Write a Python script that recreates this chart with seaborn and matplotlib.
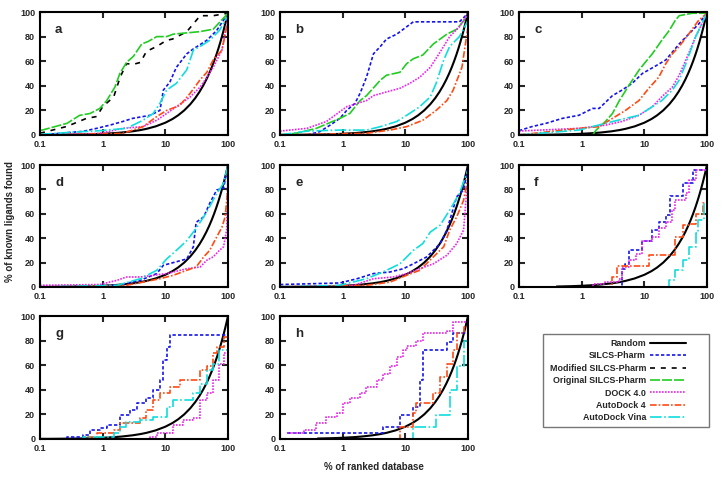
import numpy as np
import pandas as pd
import seaborn as sns
import matplotlib.pyplot as plt
from matplotlib.patches import Rectangle

# Enrichment curves: (% of ranked database, % of known ligands found)
A_SILCS = [(0.1, 0), (0.49, 3), (0.8, 5.4), (1.3, 8), (2.1, 11), (3, 13.5), (5.7, 16), (8.2, 20), (9.3, 36.5),
           (11.8, 43), (15, 55), (22, 66), (28, 70), (46, 77), (66, 85), (100, 99)]
A_MOD = [(0.1, 1.4), (0.27, 7), (0.55, 13.5), (0.8, 15), (1.0, 23), (1.5, 31), (1.9, 47), (2.4, 58), (3.1, 57.5),
         (4, 59), (5, 68), (7.3, 72), (10.5, 77), (13, 78), (22, 84), (36, 97), (58, 97), (100, 99)]
A_ORIG = [(0.1, 3.5), (0.27, 9.5), (0.43, 16), (0.63, 17.5), (0.9, 21.6), (1.16, 28), (1.57, 39), (1.88, 50),
          (2.4, 59), (3.1, 64), (4.2, 74), (5.3, 76), (7.3, 80), (10.5, 80), (13.4, 82), (35, 84), (58, 86), (100, 99)]
A_DOCK = [(0.1, 0), (0.9, 1.3), (2.1, 5.4), (4.4, 6.8), (7.3, 12), (10.5, 17.5), (15, 23), (25, 31), (36, 39),
          (46, 47), (58, 55), (80, 69), (100, 96)]
A_AD4 = [(0.1, 0), (2.1, 1.3), (4.4, 6.8), (7.3, 15), (10.5, 20), (17, 24), (25, 34), (36, 45), (46, 51),
         (58, 61), (80, 69), (100, 93)]
A_VINA = [(0.1, 0.5), (0.27, 2), (0.9, 3.5), (2.4, 5.4), (4.4, 12), (6.4, 17.5), (8.2, 25.7), (10.5, 36.5),
          (15, 42), (22, 53), (28, 69), (36, 72), (51, 77), (73, 85), (100, 97)]

B_SILCS = [(0.1, 0), (0.27, 0), (0.43, 2.7), (0.63, 8), (0.9, 13.5), (1.16, 20), (1.57, 25.7), (1.9, 34),
           (2.4, 47), (3.1, 66), (4, 72), (5, 78), (7.3, 82), (10.5, 88), (13.4, 92), (73, 92), (100, 99)]
B_ORIG = [(0.1, 0), (0.18, 1.4), (0.38, 5.4), (0.9, 13.5), (1.3, 17.5), (1.9, 28), (2.4, 32), (4, 44.6),
          (5, 48.6), (8.2, 51), (10.5, 58), (13.4, 62), (19, 65), (28, 74), (46, 82), (66, 86), (100, 97)]
B_DOCK = [(0.1, 3.2), (0.27, 5.4), (0.55, 11), (1.16, 23), (1.7, 25.7), (2.4, 28), (3.1, 32), (5, 35),
          (8.2, 38), (11.8, 42), (17, 47), (25, 55), (36, 67.5), (51, 80), (73, 88), (100, 99)]
B_AD4 = [(0.1, 0), (2.4, 1.4), (5.7, 4), (10.5, 6.8), (19, 12), (31, 20), (46, 28), (58, 36.5), (80, 55),
         (100, 88)]
B_VINA = [(0.1, 0), (0.27, 3.2), (0.9, 4), (2.4, 4), (4, 6.8), (7.3, 11), (10.5, 16), (17, 23), (25, 31),
          (31, 42), (41, 61), (51, 72), (73, 80), (100, 93)]

C_SILCS = [(0.1, 3.5), (0.16, 6.8), (0.27, 9.5), (0.49, 13.5), (0.9, 16), (1.5, 21.6), (1.9, 21.6), (3.1, 32),
           (4.4, 36.5), (6.4, 42), (9.3, 50), (15, 56), (22, 61), (36, 74), (51, 82), (73, 90), (100, 99)]
C_ORIG = [(1.5, 0), (1.7, 4), (2.4, 11), (3.1, 17.5), (4, 28), (5.7, 40.5), (8.2, 52.7), (10.5, 59.5),
          (13.4, 66), (19, 77), (25, 85), (31, 93), (36, 97), (58, 99), (100, 99)]
C_DOCK = [(0.1, 3.2), (0.9, 5.4), (2.4, 8), (4.4, 11), (8.2, 16), (13.4, 23), (19, 31), (28, 39), (36, 48.6),
          (46, 61), (66, 80), (100, 99)]
C_AD4 = [(0.1, 0), (0.9, 5.4), (1.9, 6.8), (3.1, 13.5), (5, 20), (8.2, 28), (11.8, 38), (17, 47), (22, 58),
         (28, 66), (36, 72), (51, 82), (73, 93), (100, 99)]
C_VINA = [(0.1, 0), (0.9, 4), (2.4, 9.5), (5, 13.5), (8.2, 16), (13.4, 23), (19, 28), (28, 36.5), (36, 44.6),
          (46, 58), (66, 80), (100, 99)]

D_SILCS = [(0.1, 0), (1.7, 1.4), (4, 5.5), (7.3, 11), (9.3, 17.8), (22, 23), (28, 33), (31, 53), (41, 57.5),
           (51, 68.5), (66, 79.5), (85, 81), (100, 100)]
D_DOCK = [(0.1, 1.4), (0.9, 2), (1.7, 5.5), (2.4, 8.2), (4, 8.2), (6.4, 9.6), (10.5, 11), (22, 15), (36, 16.4),
          (46, 22), (58, 24.7), (73, 30), (85, 33), (95, 46.6), (100, 98)]
D_AD4 = [(0.1, 0), (2.4, 1.4), (4.4, 4), (8.2, 6.8), (13.4, 9.6), (22, 13.7), (31, 16.4), (41, 24.7),
         (51, 30), (66, 41), (80, 49), (90, 57.5), (100, 82)]
D_VINA = [(0.1, 0), (1.7, 1.4), (4, 6.8), (7.3, 13.7), (10.5, 23), (15, 30), (22, 38), (31, 48), (46, 61.6),
          (66, 76.7), (85, 85), (100, 100)]

E_SILCS = [(0.1, 2), (0.9, 3.3), (1.7, 6.8), (3.1, 11), (5.7, 12.3), (9.3, 15), (13.4, 19), (22, 24.7),
           (36, 35.6), (46, 46.6), (66, 74), (85, 79.5), (100, 98.6)]
E_DOCK = [(0.1, 0), (1.5, 1.4), (3.1, 6.8), (6.4, 8.2), (10.5, 11), (17, 15), (28, 19), (46, 26), (66, 35.6),
          (85, 46.6), (100, 93)]
E_AD4 = [(0.1, 0), (2.4, 1.4), (5.7, 4), (10.5, 9.6), (17, 13.7), (28, 24.7), (41, 33), (51, 46.6), (66, 57.5),
         (85, 71), (100, 90)]
E_VINA = [(0.1, 0), (0.9, 1.4), (2.4, 6.8), (4.4, 12.3), (8.2, 19), (13.4, 30), (19, 35.6), (25, 45),
          (36, 50.7), (51, 63), (73, 76.7), (100, 96)]

F_SILCS = [(0.1, 0), (4, 0), (4.4, 15), (5, 19), (5.7, 30), (9.3, 38), (13.4, 46.6), (17, 53.4), (22, 59),
           (26, 75), (36, 75), (41, 85), (60, 96), (100, 100)]
F_DOCK = [(0.1, 0), (1.5, 2.7), (2.4, 4), (4, 6.8), (4.4, 16.4), (5.7, 22), (7.3, 27), (9.3, 38), (13.4, 41),
          (17, 48), (22, 53.4), (28, 63), (31, 71), (46, 77), (51, 88), (66, 96), (100, 100)]
F_AD4 = [(0.1, 0), (2.4, 0), (3.1, 8.2), (3.6, 17.5), (10.5, 17.5), (11.8, 26), (25, 26), (31, 41), (41, 50.7),
         (51, 52), (66, 60), (85, 68.5), (100, 88)]
F_VINA = [(22, 0), (25, 5.5), (31, 13.7), (41, 22), (51, 33), (66, 44), (73, 55), (90, 68.5), (100, 93)]

G_SILCS = [(0.1, 0), (0.27, 2), (0.49, 3.5), (0.63, 7.5), (0.9, 9), (1.16, 11.6), (1.5, 11.6), (1.9, 19.7),
           (2.7, 23.7), (3.5, 29), (5, 33), (6.4, 40), (8.2, 48), (9.3, 64), (10.5, 75), (11.8, 84.4),
           (99, 84.4), (100, 95)]
G_DOCK = [(0.1, 0), (5.7, 2), (7.3, 5), (13.4, 11.6), (19, 15.6), (28, 17), (36, 32), (46, 37), (58, 48),
          (73, 61), (85, 70), (100, 94)]
G_AD4 = [(0.1, 0), (0.49, 2), (0.8, 5), (1.16, 5), (1.5, 7.5), (1.9, 13), (4, 17), (5, 23.7), (6.4, 32),
         (8.2, 37), (11.8, 42.6), (17, 48), (28, 48), (36, 56), (46, 59), (58, 70), (66, 75), (85, 83), (100, 96)]
G_VINA = [(0.1, 0), (0.49, 2), (1.5, 5), (1.9, 10), (2.4, 13.5), (4, 15.6), (6.4, 18), (10.5, 26), (13.4, 32),
          (22, 32), (28, 37), (36, 45), (46, 56), (58, 61), (73, 72), (100, 96)]

H_SILCS = [(0.13, 5), (4, 5), (4.4, 10), (7.3, 10), (8.2, 19.7), (11.8, 19.7), (13.4, 26), (17, 48), (19, 72),
           (36, 72), (46, 79), (58, 86), (99, 86), (100, 100)]
H_DOCK = [(0.13, 5), (0.24, 7.5), (0.38, 13), (0.55, 18), (0.8, 21), (1.0, 29), (1.3, 33), (1.9, 37),
          (2.4, 42.6), (3.5, 48), (4.4, 53), (5.7, 59), (7.3, 67), (9.3, 72), (10.5, 76), (15, 80), (19, 86),
          (36, 86), (46, 88), (58, 95), (100, 95)]
H_AD4 = [(7.5, 0), (8.2, 10), (11.8, 10), (13.4, 21), (15, 29), (25, 29), (28, 37), (36, 50.7), (46, 61),
         (58, 72), (66, 86), (85, 91), (100, 96)]
H_VINA = [(11, 0), (13.4, 10), (28, 10), (31, 19.7), (41, 19.7), (51, 40), (66, 59), (85, 80), (100, 96)]

# Random baseline: fraction found equals fraction screened
RANDOM_PCT = [0.1, 0.15, 0.2, 0.3, 0.4, 0.5, 0.7, 1, 1.5, 2, 3, 4, 5, 7, 10, 13, 16, 20, 25, 30, 35, 40, 45,
              50, 55, 60, 65, 70, 75, 80, 85, 90, 95, 100]
RANDOM_START = [0.1, 0.1, 0.1, 0.1, 0.1, 0.35, 0.1, 0.4]

methods = ['SILCS-Pharm', 'Modified SILCS-Pharm', 'Original SILCS-Pharm', 'DOCK 4.0', 'AutoDock 4', 'AutoDock Vina']
colors = {'Random': 'black', 'SILCS-Pharm': '#1414ee', 'Modified SILCS-Pharm': 'black',
          'Original SILCS-Pharm': '#22cc22', 'DOCK 4.0': '#ee22ee', 'AutoDock 4': '#ff4a14',
          'AutoDock Vina': '#11dddd'}
styles = {'Random': '-', 'SILCS-Pharm': (0, (2, 1.3)), 'Modified SILCS-Pharm': (0, (3, 3.5)),
          'Original SILCS-Pharm': (0, (6, 1.2)), 'DOCK 4.0': (0, (1, 0.8)),
          'AutoDock 4': (0, (4, 1.2, 1, 1.2)), 'AutoDock Vina': (0, (7, 1.5, 1, 1.5))}

panels = [
    ('a', {'SILCS-Pharm': A_SILCS, 'Modified SILCS-Pharm': A_MOD, 'Original SILCS-Pharm': A_ORIG,
           'DOCK 4.0': A_DOCK, 'AutoDock 4': A_AD4, 'AutoDock Vina': A_VINA}),
    ('b', {'SILCS-Pharm': B_SILCS, 'Original SILCS-Pharm': B_ORIG, 'DOCK 4.0': B_DOCK,
           'AutoDock 4': B_AD4, 'AutoDock Vina': B_VINA}),
    ('c', {'SILCS-Pharm': C_SILCS, 'Original SILCS-Pharm': C_ORIG, 'DOCK 4.0': C_DOCK,
           'AutoDock 4': C_AD4, 'AutoDock Vina': C_VINA}),
    ('d', {'SILCS-Pharm': D_SILCS, 'DOCK 4.0': D_DOCK, 'AutoDock 4': D_AD4, 'AutoDock Vina': D_VINA}),
    ('e', {'SILCS-Pharm': E_SILCS, 'DOCK 4.0': E_DOCK, 'AutoDock 4': E_AD4, 'AutoDock Vina': E_VINA}),
    ('f', {'SILCS-Pharm': F_SILCS, 'DOCK 4.0': F_DOCK, 'AutoDock 4': F_AD4, 'AutoDock Vina': F_VINA}),
    ('g', {'SILCS-Pharm': G_SILCS, 'DOCK 4.0': G_DOCK, 'AutoDock 4': G_AD4, 'AutoDock Vina': G_VINA}),
    ('h', {'SILCS-Pharm': H_SILCS, 'DOCK 4.0': H_DOCK, 'AutoDock 4': H_AD4, 'AutoDock Vina': H_VINA}),
]
stepped = {'f', 'g', 'h'}

sns.set_style('ticks')
plt.rcParams['font.family'] = ['Liberation Sans', 'DejaVu Sans']
plt.rcParams['font.weight'] = 'bold'

fig = plt.figure(figsize=(7.24, 4.78), dpi=100)
W, H = 724, 478
lefts = [40, 280, 519]
rows = [(12, 135), (165, 287), (316, 439)]

axes = []
for i, (letter, series) in enumerate(panels):
    r, c = divmod(i, 3)
    top, bot = rows[r]
    ax = fig.add_axes([lefts[c] / W, 1 - bot / H, 188 / W, (bot - top) / H])
    axes.append(ax)

    rnd = [p for p in RANDOM_PCT if p >= RANDOM_START[i]]
    sns.lineplot(x=rnd, y=rnd, ax=ax, color='black', lw=1.5, label='Random',
                 estimator=None, sort=False)
    for m in methods:
        if m not in series:
            continue
        df = pd.DataFrame(series[m], columns=['pct_db', 'pct_found'])
        sns.lineplot(data=df, x='pct_db', y='pct_found', ax=ax, color=colors[m], lw=1.2,
                     linestyle=styles[m], label=m, estimator=None, sort=False,
                     drawstyle='steps-post' if letter in stepped else 'default')

    ax.set_xscale('log')
    ax.set_xlim(0.1, 100)
    ax.set_ylim(0, 100)
    ax.set_xticks([0.1, 1, 10, 100])
    ax.set_xticklabels(['0.1', '1', '10', '100'])
    ax.set_yticks([0, 20, 40, 60, 80, 100])
    ax.minorticks_off()
    ax.tick_params(direction='in', length=4.5, width=1.5, top=True, right=True, labelsize=6.5, pad=3.5)
    for s in ax.spines.values():
        s.set_linewidth(1.5)
        s.set_color('black')
    ax.set_xlabel('')
    ax.set_ylabel('')
    ax.text(0.08, 0.9, letter, transform=ax.transAxes, fontsize=9.5, fontweight='bold', va='top')
    if i > 0:
        ax.get_legend().remove()

handles, labels = axes[0].get_legend_handles_labels()
axes[0].get_legend().remove()
leg = fig.legend(handles, labels, loc='upper right', bbox_to_anchor=(686 / W, 1 - 339 / H),
                 frameon=False, markerfirst=False, fontsize=6.4, handlelength=4.0,
                 labelspacing=0.38, borderpad=0, borderaxespad=0, handletextpad=0.5)
for t in leg.get_texts():
    t.set_fontweight('bold')
fig.patches.append(Rectangle((543 / W, 1 - 427 / H), 166 / W, 93 / H, transform=fig.transFigure,
                             fill=False, edgecolor='#777777', lw=1))

fig.text(10 / W, 1 - 222 / H, '% of known ligands found', rotation=90, ha='center', va='center',
         fontsize=7, fontweight='bold')
fig.text(374 / W, 1 - 467 / H, '% of ranked database', ha='center', va='center',
         fontsize=7, fontweight='bold')

fig.savefig('out.png', dpi=100)
